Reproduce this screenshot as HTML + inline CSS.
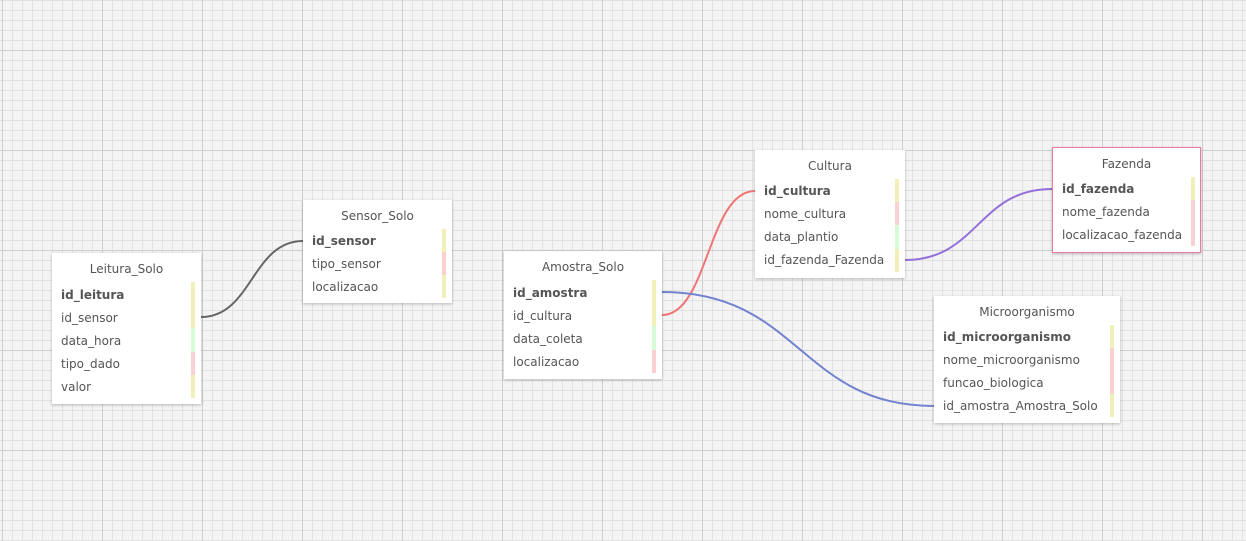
<!DOCTYPE html>
<html><head><meta charset="utf-8"><style>
body{margin:0;width:1246px;height:541px;overflow:hidden;position:relative;font-family:"DejaVu Sans","Liberation Sans",sans-serif;
background-color:#f4f4f4;
background-image:linear-gradient(#cfcfcf 1px,transparent 1px),linear-gradient(90deg,#cfcfcf 1px,transparent 1px),linear-gradient(#e2e2e2 1px,transparent 1px),linear-gradient(90deg,#e2e2e2 1px,transparent 1px);
background-size:100px 100px,100px 100px,10px 10px,10px 10px;background-position:0 50px,2px 0,0 0,2px 0;}
.t{position:absolute;background:#fff;box-shadow:0 1px 3px rgba(0,0,0,.25);color:#555;font-size:12px;}
.h{position:absolute;left:0;right:0;top:9px;text-align:center;}
.r{position:absolute;left:9px;white-space:nowrap;}
.b{font-weight:bold;}
.bar{position:absolute;width:4px;}
.y{background:#f0f0b8}.p{background:#fbd0d0}.g{background:#d6fbd6}
svg{position:absolute;left:0;top:0}
</style></head><body>
<svg width="1246" height="541" fill="none" stroke-width="2">
<path d="M201 317 C252 317,252 241,303 241" stroke="#666"/>
<path d="M662 315 C708 315,708 191,755 191" stroke="#f07575"/>
<path d="M905 260 C978 260,978 189,1052 189" stroke="#9370db"/>
<path d="M662 292 C800 292,800 406,934 406" stroke="#7383d0"/>
</svg>

<div class="t" style="left:52px;top:253px;width:149px;height:151px">
<div class="h">Leitura_Solo</div>
<div class="r b" style="top:35px">id_leitura</div>
<div class="r" style="top:58px">id_sensor</div>
<div class="r" style="top:81px">data_hora</div>
<div class="r" style="top:104px">tipo_dado</div>
<div class="r" style="top:127px">valor</div>
<div class="bar y" style="left:139px;top:29px;height:46px"></div>
<div class="bar g" style="left:139px;top:75px;height:24px"></div>
<div class="bar p" style="left:139px;top:99px;height:23px"></div>
<div class="bar y" style="left:139px;top:122px;height:23px"></div>
</div>

<div class="t" style="left:303px;top:200px;width:149px;height:103px">
<div class="h">Sensor_Solo</div>
<div class="r b" style="top:34px">id_sensor</div>
<div class="r" style="top:57px">tipo_sensor</div>
<div class="r" style="top:80px">localizacao</div>
<div class="bar y" style="left:139px;top:29px;height:23px"></div>
<div class="bar p" style="left:139px;top:52px;height:23px"></div>
<div class="bar y" style="left:139px;top:75px;height:23px"></div>
</div>

<div class="t" style="left:504px;top:251px;width:158px;height:128px">
<div class="h">Amostra_Solo</div>
<div class="r b" style="top:35px">id_amostra</div>
<div class="r" style="top:58px">id_cultura</div>
<div class="r" style="top:81px">data_coleta</div>
<div class="r" style="top:104px">localizacao</div>
<div class="bar y" style="left:148px;top:29px;height:46px"></div>
<div class="bar g" style="left:148px;top:75px;height:24px"></div>
<div class="bar p" style="left:148px;top:99px;height:23px"></div>
</div>

<div class="t" style="left:755px;top:150px;width:150px;height:128px">
<div class="h">Cultura</div>
<div class="r b" style="top:34px">id_cultura</div>
<div class="r" style="top:57px">nome_cultura</div>
<div class="r" style="top:80px">data_plantio</div>
<div class="r" style="top:103px">id_fazenda_Fazenda</div>
<div class="bar y" style="left:140px;top:29px;height:23px"></div>
<div class="bar p" style="left:140px;top:52px;height:23px"></div>
<div class="bar g" style="left:140px;top:75px;height:24px"></div>
<div class="bar y" style="left:140px;top:99px;height:23px"></div>
</div>

<div class="t" style="left:1052px;top:147px;width:147px;height:104px;border:1px solid #ee7aa0">
<div class="h">Fazenda</div>
<div class="r b" style="top:34px">id_fazenda</div>
<div class="r" style="top:57px">nome_fazenda</div>
<div class="r" style="top:80px">localizacao_fazenda</div>
<div class="bar y" style="left:138px;top:29px;height:23px"></div>
<div class="bar p" style="left:138px;top:52px;height:46px"></div>
</div>

<div class="t" style="left:934px;top:296px;width:186px;height:127px">
<div class="h">Microorganismo</div>
<div class="r b" style="top:34px">id_microorganismo</div>
<div class="r" style="top:57px">nome_microorganismo</div>
<div class="r" style="top:80px">funcao_biologica</div>
<div class="r" style="top:103px">id_amostra_Amostra_Solo</div>
<div class="bar y" style="left:176px;top:29px;height:23px"></div>
<div class="bar p" style="left:176px;top:52px;height:46px"></div>
<div class="bar y" style="left:176px;top:98px;height:23px"></div>
</div>
</body></html>
